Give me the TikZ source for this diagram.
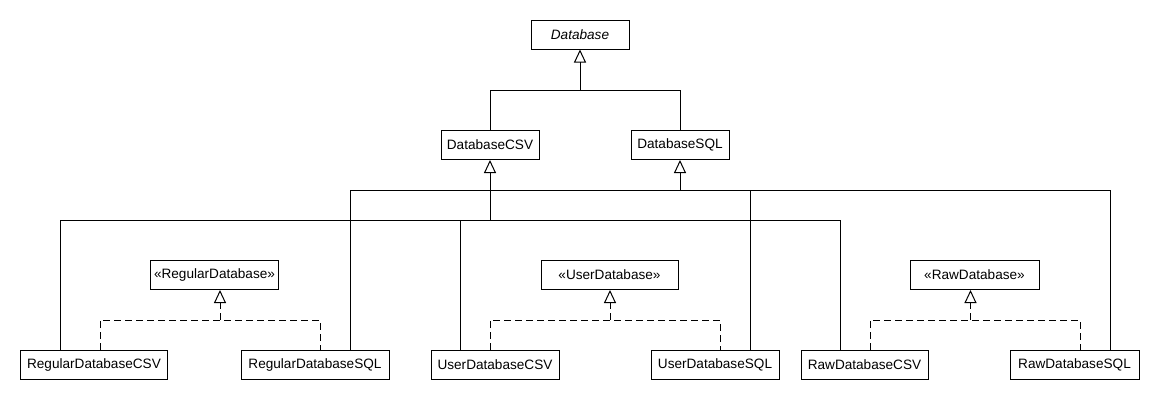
\documentclass[tikz,border=0pt]{standalone}
\usepackage{fontspec}
\setmainfont{Liberation Sans}
\usetikzlibrary{arrows.meta}

\begin{document}
\begin{tikzpicture}[x=1pt,y=-1pt,line width=1pt,
  font=\fontsize{13.6}{16}\selectfont,
  cls/.style={draw,minimum height=29pt,inner sep=0pt},
  gen/.style={-{Triangle[open,length=13pt,width=12pt]}},
  real/.style={dash pattern=on 7pt off 4pt}]
 \useasboundingbox (0,0) rectangle (1160,400);
 % abstract base and the two storage kinds
 \node[cls,minimum width=98pt] (db) at (580,34.5) {\textit{Database}};
 \node[cls,minimum width=98pt] (dbcsv) at (490,145) {DatabaseCSV};
 \node[cls,minimum width=98pt] (dbsql) at (680,145) {DatabaseSQL};
 % interfaces
 \node[cls,minimum width=128pt] (rint) at (214.5,275) {«RegularDatabase»};
 \node[cls,minimum width=137pt] (uint) at (609.5,275) {«UserDatabase»};
 \node[cls,minimum width=129pt] (wint) at (974.5,275) {«RawDatabase»};
 % concrete classes
 \node[cls,minimum width=147pt] (rcsv) at (94,365) {RegularDatabaseCSV};
 \node[cls,minimum width=148pt] (rsql) at (315,365) {RegularDatabaseSQL};
 \node[cls,minimum width=128pt] (ucsv) at (495,365) {UserDatabaseCSV};
 \node[cls,minimum width=128pt] (usql) at (715,365) {UserDatabaseSQL};
 \node[cls,minimum width=127pt] (wcsv) at (864.5,365) {RawDatabaseCSV};
 \node[cls,minimum width=129pt] (wsql) at (1074.5,365) {RawDatabaseSQL};
 \coordinate (busTop) at (0,90);
 \coordinate (busSql) at (0,190);
 \coordinate (busCsv) at (0,220);
 \coordinate (busReal) at (0,320);
 % generalisation
 \draw[gen] (dbcsv.north) |- (db.south |- busTop) -- (db.south);
 \draw (dbsql.north) |- (db.south |- busTop);
 \draw ([xshift=-34pt]rcsv.north) |- ([xshift=-24.5pt]wcsv.north |- busCsv)
   -- ([xshift=-24.5pt]wcsv.north);
 \draw ([xshift=-35pt]ucsv.north) -- ([xshift=-35pt]ucsv.north |- busCsv);
 \draw[gen] (dbcsv.south |- busCsv) -- (dbcsv.south);
 \draw ([xshift=35pt]rsql.north) |- ([xshift=35.5pt]wsql.north |- busSql)
   -- ([xshift=35.5pt]wsql.north);
 \draw ([xshift=35pt]usql.north) -- ([xshift=35pt]usql.north |- busSql);
 \draw[gen] (dbsql.south |- busSql) -- (dbsql.south);
 % realisation
 \draw[real] ([xshift=6pt]rcsv.north) |- ([xshift=5pt]rsql.north |- busReal)
   -- ([xshift=5pt]rsql.north);
 \draw[real,gen] ([xshift=5.5pt]rint.south |- busReal) -- ([xshift=5.5pt]rint.south);
 \draw[real] ([xshift=-5pt]ucsv.north) |- ([xshift=5pt]usql.north |- busReal)
   -- ([xshift=5pt]usql.north);
 \draw[real,gen] ([xshift=0.5pt]uint.south |- busReal) -- ([xshift=0.5pt]uint.south);
 \draw[real] ([xshift=5.5pt]wcsv.north) |- ([xshift=5.5pt]wsql.north |- busReal)
   -- ([xshift=5.5pt]wsql.north);
 \draw[real,gen] ([xshift=-4pt]wint.south |- busReal) -- ([xshift=-4pt]wint.south);
\end{tikzpicture}
\end{document}
